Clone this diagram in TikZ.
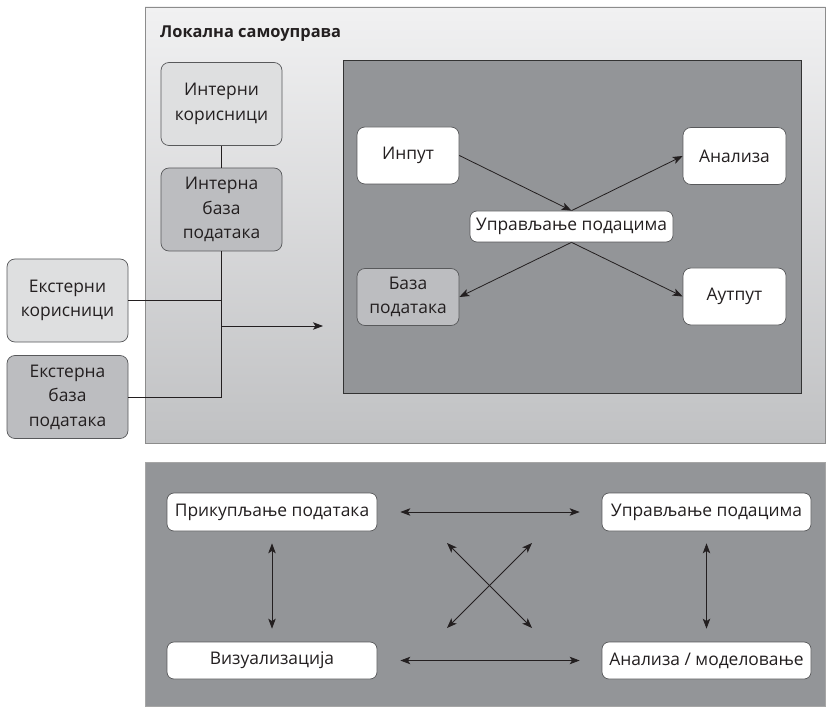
\documentclass[tikz,border=0pt]{standalone}
\usepackage{fontspec}
\setmainfont{Open Sans}
\usetikzlibrary{arrows.meta}
\definecolor{darkgr}{HTML}{939598}
\definecolor{lightnode}{HTML}{DEDFE0}
\definecolor{midnode}{HTML}{BCBDC0}
\definecolor{edgecol}{HTML}{58595B}
\definecolor{linecol}{HTML}{231F20}
\definecolor{gradtop}{HTML}{F1F1F2}
\definecolor{gradbot}{HTML}{C0C1C3}
\tikzset{
  box/.style={draw=edgecol, line width=0.7pt, rounded corners=8pt, align=center,
    font=\fontsize{17.4}{24.5}\selectfont, text=linecol, inner sep=0pt},
  lightbox/.style={box, fill=lightnode, minimum width=121pt, minimum height=83pt},
  midbox/.style={box, fill=midnode, minimum width=121pt, minimum height=83pt},
  whitebox/.style={box, fill=white, minimum width=102pt, minimum height=57pt},
  pill/.style={box, fill=white, rounded corners=7pt},
  conn/.style={draw=linecol, line width=0.8pt},
  arr/.style={conn, -{Stealth[length=10pt,width=7.5pt,inset=2.5pt]}},
  darr/.style={conn, {Stealth[length=10pt,width=7.5pt,inset=2.5pt]}-{Stealth[length=10pt,width=7.5pt,inset=2.5pt]}},
}
\begin{document}
\begin{tikzpicture}[x=1pt,y=-1pt]
\useasboundingbox[fill=white] (0,0) rectangle (826,708);
% top panel
\shade[top color=gradtop, bottom color=gradbot] (145,7) rectangle (825.5,443);
\draw[draw=black!45, line width=0.8pt] (145,7) rectangle (825.5,443);
\node[anchor=base west, font=\fontsize{16.4}{19}\selectfont\bfseries, text=linecol, inner sep=0pt] (title) at (160,38) {Локална самоуправа};
% inner dark box
\draw[fill=darkgr, draw=black!80, line width=0.8pt] (343,60) rectangle (801,393);
% left nodes
\node[lightbox] (intK) at (221.5,104) {Интерни\\корисници};
\node[midbox] (intB) at (221.5,209.5) {Интерна\\база\\података};
\node[lightbox] (extK) at (67.5,300.5) {Екстерни\\корисници};
\node[midbox] (extB) at (67.5,397) {Екстерна\\база\\података};
\draw[conn] (intK.south) -- (intB.north);
\draw[conn] (intB.south) |- (extB.east);
\draw[conn] (extK.east) -- (extK.east -| intB.south);
\coordinate (jn) at (221.5,326);
\coordinate (ar) at (323,326);
\draw[arr] (jn) -- (ar);
% inner nodes
\node[whitebox] (input) at (408,155.5) {Инпут};
\node[whitebox, minimum width=103pt] (analiza) at (734.5,156) {Анализа};
\node[whitebox, minimum width=103pt] (autput) at (734.5,296.5) {Аутпут};
\node[whitebox, fill=midnode] (baza) at (408,297) {База\\података};
\node[pill, minimum width=203pt, minimum height=31pt] (upr) at (571.5,226.5) {Управљање подацима};
\draw[arr] (input.east) -- (upr.north);
\draw[arr] (upr.north) -- (analiza.west);
\draw[arr] (upr.south) -- (baza.east);
\draw[arr] (upr.south) -- (autput.west);
% bottom panel
\draw[fill=darkgr, draw=black!35, line width=0.8pt] (145,462) rectangle (825.5,706);
\node[pill, minimum width=210pt, minimum height=38pt] (pk) at (272,512) {Прикупљање података};
\node[pill, minimum width=210pt, minimum height=37pt] (viz) at (272,660.5) {Визуализација};
\node[pill, minimum width=209pt, minimum height=38pt] (upr2) at (706.5,512) {Управљање подацима};
\node[pill, minimum width=209pt, minimum height=37pt] (anm) at (706.5,660.5) {Анализа / моделовање};
\draw[darr, shorten <=23pt, shorten >=22pt] (pk.east) -- (upr2.west);
\draw[darr, shorten <=23pt, shorten >=22pt] (viz.east) -- (anm.west);
\draw[darr, shorten <=12pt, shorten >=13pt] (pk.south) -- (viz.north);
\draw[darr, shorten <=12pt, shorten >=13pt] (upr2.south) -- (anm.north);
\coordinate (d1) at (447,543);
\coordinate (d2) at (532,628);
\coordinate (d3) at (532,543);
\coordinate (d4) at (447,628);
\draw[darr] (d1) -- (d2);
\draw[darr] (d3) -- (d4);
\end{tikzpicture}
\end{document}
